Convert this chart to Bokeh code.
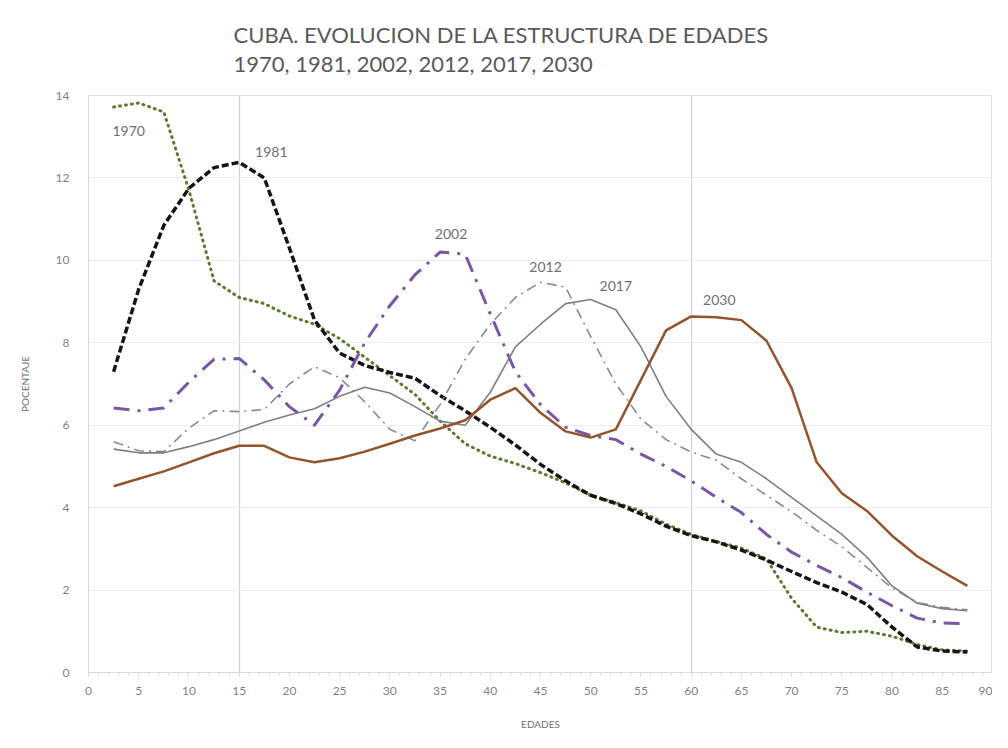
from bokeh.plotting import figure
from bokeh.models import Range1d, SingleIntervalTicker, FixedTicker, Title, Label
from bokeh.embed import file_html
from bokeh.resources import INLINE

ages = [2.5, 5, 7.5, 10, 12.5, 15, 17.5, 20, 22.5, 25, 27.5, 30, 32.5, 35, 37.5,
        40, 42.5, 45, 47.5, 50, 52.5, 55, 57.5, 60, 62.5, 65, 67.5, 70, 72.5, 75,
        77.5, 80, 82.5, 85, 87.5]

y1970 = [13.72, 13.82, 13.6, 11.7, 9.5, 9.1, 8.95, 8.65, 8.45, 8.1, 7.65, 7.2, 6.75, 6.1, 5.55,
         5.25, 5.07, 4.85, 4.6, 4.3, 4.12, 3.92, 3.6, 3.35, 3.18, 3.02, 2.75, 1.8, 1.1, 0.97,
         1.0, 0.88, 0.68, 0.55, 0.52]
y1981 = [7.3, 9.3, 10.85, 11.75, 12.25, 12.38, 12.0, 10.3, 8.55, 7.75, 7.45, 7.28, 7.14, 6.72, 6.35,
         5.95, 5.52, 5.05, 4.65, 4.3, 4.1, 3.85, 3.55, 3.32, 3.17, 2.97, 2.73, 2.45, 2.18, 1.95,
         1.65, 1.1, 0.62, 0.52, 0.5]
y2002 = [6.42, 6.35, 6.42, 7.05, 7.6, 7.62, 7.1, 6.45, 6.0, 6.85, 8.0, 8.9, 9.65, 10.2, 10.15,
         8.7, 7.3, 6.5, 5.95, 5.75, 5.65, 5.3, 5.0, 4.65, 4.25, 3.88, 3.35, 2.92, 2.6, 2.3,
         1.95, 1.62, 1.32, 1.2, 1.18]
y2012 = [5.6, 5.38, 5.36, 5.93, 6.35, 6.33, 6.38, 7.0, 7.42, 7.15, 6.57, 5.9, 5.62, 6.5, 7.6,
         8.45, 9.1, 9.47, 9.35, 8.15, 7.0, 6.15, 5.65, 5.35, 5.15, 4.7, 4.3, 3.9, 3.45, 3.05,
         2.55, 2.05, 1.7, 1.58, 1.52]
y2017 = [5.42, 5.33, 5.33, 5.48, 5.65, 5.86, 6.07, 6.25, 6.4, 6.7, 6.92, 6.78, 6.45, 6.1, 6.0,
         6.8, 7.9, 8.45, 8.95, 9.05, 8.8, 7.9, 6.7, 5.9, 5.3, 5.1, 4.7, 4.25, 3.8, 3.35,
         2.8, 2.1, 1.68, 1.55, 1.5]
y2030 = [4.52, 4.7, 4.88, 5.1, 5.32, 5.5, 5.5, 5.22, 5.1, 5.2, 5.36, 5.55, 5.75, 5.92, 6.12,
         6.62, 6.9, 6.3, 5.85, 5.7, 5.9, 7.1, 8.3, 8.64, 8.62, 8.55, 8.05, 6.9, 5.1, 4.35,
         3.92, 3.32, 2.82, 2.45, 2.1]

years = ["1970", "1981", "2002", "2012", "2017", "2030"]
values = [y1970, y1981, y2002, y2012, y2017, y2030]
label_x = [4.0, 18.2, 36.1, 45.5, 52.5, 62.8]
label_y = [13.15, 12.63, 10.65, 9.85, 9.37, 9.05]

title_lines = ["CUBA. EVOLUCION DE LA ESTRUCTURA DE EDADES",
               "1970, 1981, 2002, 2012, 2017, 2030"]

styles = {
    "1970": dict(line_color="#5b7a2e", line_width=3, line_dash="1 5", line_cap="round"),
    "1981": dict(line_color="#151515", line_width=3.5, line_dash="7 3"),
    "2002": dict(line_color="#7a55a5", line_width=3, line_dash="16 8 3 8"),
    "2012": dict(line_color="#7d8ca3", line_width=1.6, line_dash="10 5 2 5"),
    "2017": dict(line_color="#7f7f7f", line_width=1.6),
    "2030": dict(line_color="#94532a", line_width=2.5),
}

FONT = "Lato"
p = figure(width=992, height=732, x_range=Range1d(0, 90), y_range=Range1d(0, 14),
           output_backend="svg", toolbar_location=None,
           min_border_left=88, min_border_right=0, min_border_top=93, min_border_bottom=60)
p.title = None
p.add_layout(Title(text="\n".join(title_lines), align="left", offset=145,
                   text_font=FONT, text_font_size="22px", text_font_style="normal",
                   text_line_height=1.08,
                   text_color="#595959", standoff=37), "above")

p.outline_line_color = "#e3e3e3"
p.background_fill_color = "white"
p.border_fill_color = "white"

# grids
p.ygrid.ticker = SingleIntervalTicker(interval=2)
p.ygrid.grid_line_color = "#ececec"
p.xgrid.ticker = FixedTicker(ticks=[15, 60])
p.xgrid.grid_line_color = "#d2d2d2"
p.xgrid.grid_line_width = 1.2

# axes
xa = p.xaxis[0]
xa.ticker = SingleIntervalTicker(interval=5, num_minor_ticks=5)
xa.axis_line_color = "#d9d9d9"
xa.major_tick_line_color = "#d9d9d9"
xa.minor_tick_line_color = "#d9d9d9"
xa.major_tick_in = 0
xa.major_tick_out = 4
xa.minor_tick_in = 0
xa.minor_tick_out = 3
xa.major_label_standoff = 10
xa.major_label_text_font = FONT
xa.major_label_text_font_size = "12px"
xa.major_label_text_color = "#7f7f7f"
xa.axis_label = "EDADES"
xa.axis_label_text_font = FONT
xa.axis_label_text_font_size = "10px"
xa.axis_label_text_font_style = "normal"
xa.axis_label_text_color = "#6f6f6f"
xa.axis_label_standoff = 20

ya = p.yaxis[0]
ya.ticker = SingleIntervalTicker(interval=2)
ya.axis_line_color = "#d9d9d9"
ya.major_tick_line_color = None
ya.minor_tick_line_color = None
ya.major_label_standoff = 13
ya.major_label_text_font = FONT
ya.major_label_text_font_size = "12px"
ya.major_label_text_color = "#7f7f7f"
ya.axis_label = "POCENTAJE"
ya.axis_label_text_font = FONT
ya.axis_label_text_font_size = "10px"
ya.axis_label_text_font_style = "normal"
ya.axis_label_text_color = "#6f6f6f"
ya.axis_label_standoff = 22

for yr, vals in zip(years, values):
    p.line(ages, vals, line_join="round", **styles[yr])

for yr, lx, ly in zip(years, label_x, label_y):
    p.add_layout(Label(x=lx, y=ly, text=yr, text_font=FONT, text_font_size="14px",
                       text_color="#6f6f6f", text_align="center", text_baseline="middle"))

open("out.html", "w").write(file_html(p, INLINE))
